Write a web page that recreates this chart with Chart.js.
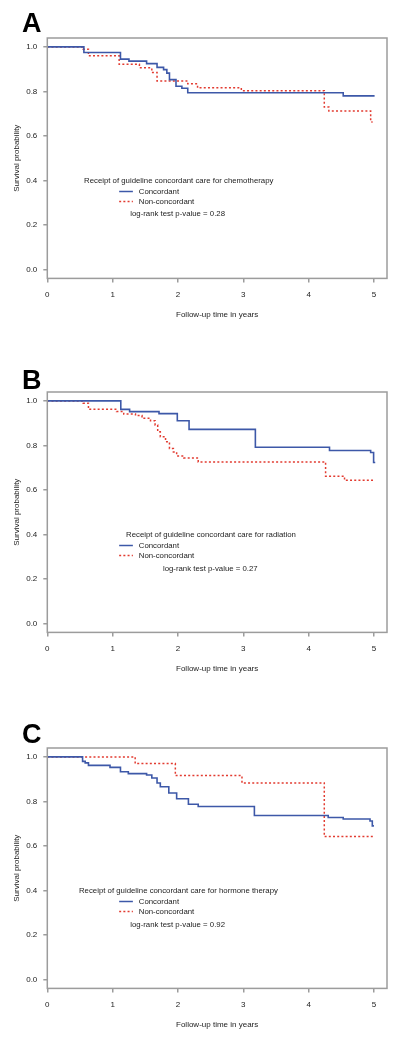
<!DOCTYPE html>
<html><head><meta charset="utf-8">
<script src="https://cdn.jsdelivr.net/npm/chart.js@4.4.0/dist/chart.umd.min.js"></script>
<style>
html,body{margin:0;padding:0;background:#fff;overflow:hidden;width:400px;height:1037px;position:relative;}
canvas{position:absolute;left:0;}
</style></head><body>
<canvas id="cA" width="400" height="330" style="top:0px"></canvas>
<canvas id="cB" width="400" height="330" style="top:354px"></canvas>
<canvas id="cC" width="400" height="330" style="top:710px"></canvas>
<script>
// ---- Data ----
const xTicks = [0, 1, 2, 3, 4, 5];
const yTicks = [0.0, 0.2, 0.4, 0.6, 0.8, 1.0];
const seriesNames = ['Concordant', 'Non-concordant'];
const panelLetters = ['A', 'B', 'C'];
const legendTitles = [
  'Receipt of guideline concordant care for chemotherapy',
  'Receipt of guideline concordant care for radiation',
  'Receipt of guideline concordant care for hormone therapy'
];
const pValues = ['0.28', '0.27', '0.92'];

// A: chemotherapy
const chemoConcTime = [0, 0.56, 1.12, 1.25, 1.52, 1.68, 1.78, 1.83, 1.87, 1.97, 2.06, 2.15, 4.53, 5.01];
const chemoConcSurv = [1.0, 0.975, 0.945, 0.936, 0.925, 0.908, 0.898, 0.882, 0.853, 0.823, 0.814, 0.794, 0.780, 0.780];
const chemoNonTime = [0, 0.55, 0.63, 1.10, 1.41, 1.60, 1.68, 2.15, 2.30, 2.97, 4.24, 4.31, 4.95, 4.98];
const chemoNonSurv = [1.0, 0.99, 0.96, 0.922, 0.906, 0.885, 0.847, 0.834, 0.816, 0.803, 0.73, 0.712, 0.663, 0.663];

// B: radiation
const radConcTime = [0, 1.125, 1.26, 1.71, 1.99, 2.17, 3.185, 4.32, 4.95, 4.995, 5.02];
const radConcSurv = [1.0, 0.962, 0.952, 0.943, 0.911, 0.872, 0.792, 0.777, 0.768, 0.723, 0.723];
const radNonTime = [0, 0.55, 0.63, 1.06, 1.17, 1.35, 1.45, 1.58, 1.65, 1.69, 1.73, 1.81, 1.87, 1.93, 1.98, 2.09, 2.31, 4.26, 4.55, 5.02];
const radNonSurv = [1.0, 0.99, 0.962, 0.952, 0.941, 0.934, 0.922, 0.911, 0.892, 0.861, 0.839, 0.816, 0.786, 0.771, 0.753, 0.744, 0.726, 0.662, 0.643, 0.643];

// C: hormone therapy
const hormConcTime = [0, 0.54, 0.58, 0.63, 0.96, 1.12, 1.24, 1.52, 1.60, 1.68, 1.73, 1.86, 1.98, 2.16, 2.31, 3.17, 4.30, 4.53, 4.94, 4.975, 5.0];
const hormConcSurv = [1.0, 0.98, 0.973, 0.962, 0.953, 0.933, 0.925, 0.919, 0.905, 0.883, 0.866, 0.838, 0.812, 0.787, 0.777, 0.737, 0.728, 0.721, 0.712, 0.69, 0.69];
const hormNonTime = [0, 1.345, 1.96, 2.98, 4.24, 5.0];
const hormNonSurv = [1.0, 0.97, 0.916, 0.883, 0.642, 0.642];

// ---- Styling ----
const FONT = '"Liberation Sans", Arial, Helvetica, sans-serif';
const BLUE = '#3d58a8';
const RED = '#e23b30';
const BOX = '#9c9c9c';
const TXT = '#1c1c1c';

function pts(t, s) { return t.map((v, i) => ({x: v, y: s[i]})); }

const decorPlugin = {
  id: 'decor',
  afterDraw(chart, args, o) {
    const {ctx, chartArea: a, scales: {x, y}} = chart;
    ctx.save();
    // box
    ctx.strokeStyle = BOX; ctx.lineWidth = 1.5; ctx.setLineDash([]);
    ctx.strokeRect(a.left, a.top, a.right - a.left, a.bottom - a.top);
    // panel letter
    ctx.fillStyle = '#000';
    ctx.font = 'bold 27px ' + FONT;
    ctx.textBaseline = 'alphabetic'; ctx.textAlign = 'left';
    ctx.fillText(o.letter, 22, o.letterY);
    // legend
    ctx.font = '7.8px ' + FONT;
    ctx.fillStyle = TXT;
    ctx.textBaseline = 'middle';
    ctx.fillText(o.title, x.getPixelForValue(o.titleX), y.getPixelForValue(0.40));
    const ds = chart.data.datasets;
    const rows = [0.353, 0.308];
    rows.forEach((rv, i) => {
      const py = Math.round(y.getPixelForValue(rv)) + 0.5;
      ctx.strokeStyle = ds[i].borderColor;
      ctx.lineWidth = 1.5;
      ctx.setLineDash(ds[i].borderDash || []);
      ctx.beginPath();
      ctx.moveTo(x.getPixelForValue(1.10), py);
      ctx.lineTo(x.getPixelForValue(1.31), py);
      ctx.stroke();
      ctx.setLineDash([]);
      ctx.fillText(ds[i].label, x.getPixelForValue(1.40), py);
    });
    ctx.fillText('log-rank test p-value = ' + o.p, x.getPixelForValue(o.pX), y.getPixelForValue(o.pY));
    ctx.restore();
  }
};

function makeChart(id, conc, non, idx, titleX, pX, pY, letterY) {
  new Chart(document.getElementById(id), {
    type: 'line',
    data: {
      datasets: [
        {label: seriesNames[0], data: conc, borderColor: BLUE, borderWidth: 1.6, stepped: 'before', pointRadius: 0, fill: false},
        {label: seriesNames[1], data: non, borderColor: RED, borderWidth: 1.5, borderDash: [2, 2.2], stepped: 'before', pointRadius: 0, fill: false}
      ]
    },
    options: {
      responsive: false,
      animation: false,
      devicePixelRatio: 1,
      layout: {padding: {top: 38, bottom: 6.6, left: 0, right: 13}},
      plugins: {
        legend: {display: false},
        tooltip: {enabled: false},
        decor: {letter: panelLetters[idx], letterY: letterY, title: legendTitles[idx], titleX: titleX, p: pValues[idx], pX: pX, pY: pY}
      },
      scales: {
        x: {
          type: 'linear', min: 0, max: 5.2,
          afterFit: s => { s.height = 45; },
          afterBuildTicks: s => { s.ticks = xTicks.map(v => ({value: v})); },
          border: {display: false},
          grid: {drawOnChartArea: false, drawTicks: true, tickLength: 4, color: BOX, lineWidth: 1.5},
          ticks: {font: {family: FONT, size: 8}, color: TXT, padding: 8, maxRotation: 0, callback: v => String(v)},
          title: {display: true, text: 'Follow-up time in years', font: {family: FONT, size: 8}, color: TXT, padding: {top: 0, bottom: 4}}
        },
        y: {
          type: 'linear', min: -0.04, max: 1.04,
          afterFit: s => { s.width = 47.3; },
          afterBuildTicks: s => { s.ticks = yTicks.map(v => ({value: v})); },
          border: {display: false},
          grid: {drawOnChartArea: false, drawTicks: true, tickLength: 4, color: BOX, lineWidth: 1.5},
          ticks: {font: {family: FONT, size: 8}, color: TXT, padding: 6, callback: v => Number(v).toFixed(1)},
          title: {display: true, text: 'Survival probability', font: {family: FONT, size: 8}, color: TXT, padding: {top: 12, bottom: 0}}
        }
      }
    },
    plugins: [decorPlugin]
  });
}

makeChart('cA', pts(chemoConcTime, chemoConcSurv), pts(chemoNonTime, chemoNonSurv), 0, 0.562, 1.27, 0.252, 31.7);
makeChart('cB', pts(radConcTime, radConcSurv), pts(radNonTime, radNonSurv), 1, 1.205, 1.77, 0.247, 35.3);
makeChart('cC', pts(hormConcTime, hormConcSurv), pts(hormNonTime, hormNonSurv), 2, 0.485, 1.27, 0.246, 33.3);
</script>
</body></html>
